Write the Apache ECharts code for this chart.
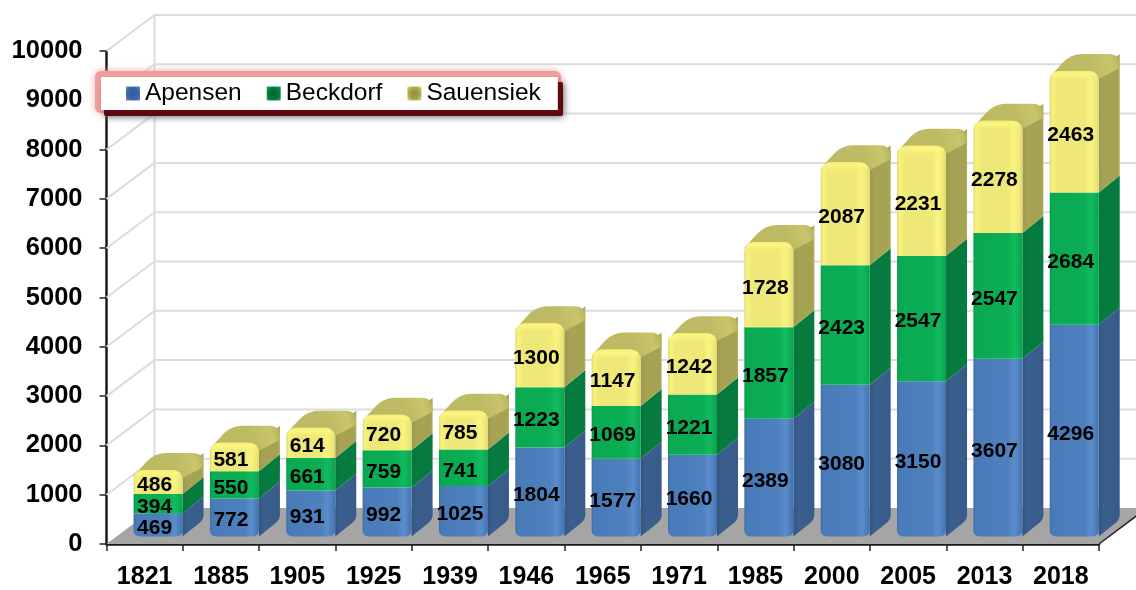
<!DOCTYPE html>
<html>
<head>
<meta charset="utf-8">
<style>html,body{margin:0;padding:0;background:#fff}#c{width:1136px;height:590px;filter:blur(0.45px)}</style>
<script src="https://cdn.jsdelivr.net/npm/echarts@6/dist/echarts.min.js"></script>
</head>
<body>
<div id="c"></div>
<script>
const years = ['1821','1885','1905','1925','1939','1946','1965','1971','1985','2000','2005','2013','2018'];
const apensen = [469,772,931,992,1025,1804,1577,1660,2389,3080,3150,3607,4296];
const beckdorf = [394,550,661,759,741,1223,1069,1221,1857,2423,2547,2547,2684];
const sauensiek = [486,581,614,720,785,1300,1147,1242,1728,2087,2231,2278,2463];
const gridTicks = [0,1000,2000,3000,4000,5000,6000,7000,8000,9000,10000];

const FONT = '"Liberation Sans", Arial, sans-serif';
const WALL_DX = 48, WALL_DY = 36;         // depth of the floor
const BAR_DX = 21, BAR_DY = 17;           // depth of one bar
const BAR_FRONT_DY = 7.5;                 // bar stands this far behind the front edge
const BAR_SHIFT = 13.4, BAR_W = 49;       // relative to the category band

function hGrad(stops){
  return new echarts.graphic.LinearGradient(0,0,1,0,stops.map(s=>({offset:s[0],color:s[1]})));
}
const faces = {
  blue: {
    front: hGrad([[0,'#3f6ea8'],[0.05,'#4a7bb9'],[0.7,'#4e80be'],[0.84,'#5b8dcc'],[0.95,'#4a7cba'],[1,'#4272ac']]),
    side: hGrad([[0,'#34557f'],[0.25,'#3a5f8e'],[1,'#385b89']]),
    top: '#3a5f8e'
  },
  green: {
    front: hGrad([[0,'#089a4c'],[0.05,'#0aaa52'],[0.7,'#0aae54'],[0.84,'#12bb5f'],[0.95,'#0bac54'],[1,'#0a9f4d']]),
    side: hGrad([[0,'#06733b'],[0.25,'#067b40'],[1,'#067a3f']]),
    top: '#067a3f'
  },
  yellow: {
    front: hGrad([[0,'#dcd872'],[0.05,'#f8f27c'],[0.16,'#eee878'],[0.7,'#eee878'],[0.83,'#faf47f'],[0.94,'#eee878'],[1,'#dfda72']]),
    side: hGrad([[0,'#9c9950'],[0.25,'#a6a355'],[0.9,'#a5a254'],[1,'#b0ad5c']]),
    top: new echarts.graphic.LinearGradient(0,1,1,0,[{offset:0,color:'#bdb962'},{offset:0.6,color:'#bfbb64'},{offset:0.85,color:'#c9c56c'},{offset:1,color:'#b3af5c'}])
  }
};

// polygon with rounded corners; radii per corner
function roundPoly(pts, radii){
  const out = [], n = pts.length;
  for(let i=0;i<n;i++){
    const p = pts[i], a = pts[(i+n-1)%n], b = pts[(i+1)%n], r = radii[i];
    if(!r){ out.push(p); continue; }
    const la = Math.hypot(a[0]-p[0],a[1]-p[1]), lb = Math.hypot(b[0]-p[0],b[1]-p[1]);
    const s = [p[0]+(a[0]-p[0])*r/la, p[1]+(a[1]-p[1])*r/la];
    const e = [p[0]+(b[0]-p[0])*r/lb, p[1]+(b[1]-p[1])*r/lb];
    for(let t=0;t<=6;t++){
      const u=t/6, v=1-u;
      out.push([v*v*s[0]+2*v*u*p[0]+u*u*e[0], v*v*s[1]+2*v*u*p[1]+u*u*e[1]]);
    }
  }
  return out;
}

function makeBarRender(face, isBottom, isTop){
  return function(params, api){
    const idx = api.value(0), base = api.value(1), top = api.value(2);
    const c0 = api.coord([idx, base]), c1 = api.coord([idx, top]);
    const x0 = c0[0] + BAR_SHIFT - BAR_W/2, x1 = x0 + BAR_W;
    const yb = c0[1] - BAR_FRONT_DY, yt = c1[1] - BAR_FRONT_DY;
    const kids = [];
    const sidePts = roundPoly(
      [[x1,yt],[x1+BAR_DX,yt-BAR_DY],[x1+BAR_DX,yb-BAR_DY],[x1,yb]],
      [0, 0, isBottom?5:0, 0]);
    kids.push({type:'polygon',shape:{points:sidePts},style:{fill:face.side,stroke:null}});
    if(isTop){
      const topPts = roundPoly(
        [[x0,yt+6],[x0+BAR_DX,yt-BAR_DY],[x1+BAR_DX,yt-BAR_DY],[x1+BAR_DX,yt-BAR_DY+14],[x1,yt+8]],
        [0,12,11,0,0]);
      kids.push({type:'polygon',shape:{points:topPts},style:{fill:face.top}});
    }
    const h = yb-yt;
    const r = isTop?[9,9,0,0]:(isBottom?[0,0,6,6]:0);
    kids.push({type:'rect',shape:{x:x0,y:yt,width:BAR_W,height:h,r:r},style:{fill:face.front}});
    if(isTop){
      kids.push({type:'rect',shape:{x:x0+1,y:yt,width:BAR_W-2,height:10,r:[9,9,0,0]},
        style:{fill:new echarts.graphic.LinearGradient(0,0,0,1,[
          {offset:0,color:'rgba(246,241,120,0.9)'},{offset:0.35,color:'rgba(252,246,128,1)'},{offset:1,color:'rgba(240,234,120,0)'}])}});
    }
    kids.push({type:'text',z2:100,style:{
      x:(x0+x1)/2-3.5, y:(yb+yt)/2+3.2, text:String(api.value(3)),
      textAlign:'center', textVerticalAlign:'middle',
      font:'bold 21px '+FONT, fill:'#000'}});
    return {type:'group',children:kids};
  };
}

function stacked(values, below){
  return values.map((v,i)=>{
    const base = below.reduce((s,a)=>s+a[i],0);
    return [i, base, base+v, v];
  });
}

const option = {
  animation:false,
  backgroundColor:'#fff',
  textStyle:{fontFamily:FONT},
  grid:{left:106.5,right:37,top:51,bottom:42.3,containLabel:false},
  xAxis:{type:'category',data:years,boundaryGap:true,
    axisLine:{show:true,lineStyle:{color:'#1a1a1a',width:2.5},onZero:false},
    axisTick:{show:true,length:7,alignWithLabel:false,lineStyle:{color:'#222',width:1.5}},
    axisLabel:{interval:0,margin:21,fontFamily:FONT,fontWeight:'bold',fontSize:25,color:'#000'},
    splitLine:{show:false}},
  yAxis:{type:'value',min:0,max:10000,interval:1000,
    axisLine:{show:true,lineStyle:{color:'#1a1a1a',width:2.5}},
    axisTick:{show:true,length:7,lineStyle:{color:'#222',width:1.5}},
    axisLabel:{margin:24,fontFamily:FONT,fontWeight:'bold',fontSize:25.5,color:'#000',
      padding:[6,0,0,0],formatter:v=>String(v)},
    splitLine:{show:false}},
  legend:{
    data:[
      {name:'Apensen',itemStyle:{color:new echarts.graphic.RadialGradient(0.5,0.5,0.7,[{offset:0,color:'#2f5fa8'},{offset:0.6,color:'#3b66a5'},{offset:1,color:'#6f93c4'}])}},
      {name:'Beckdorf',itemStyle:{color:new echarts.graphic.RadialGradient(0.5,0.5,0.7,[{offset:0,color:'#035f30'},{offset:0.6,color:'#067a3f'},{offset:1,color:'#20b868'}])}},
      {name:'Sauensiek',itemStyle:{color:new echarts.graphic.RadialGradient(0.5,0.5,0.7,[{offset:0,color:'#8f8c3a'},{offset:0.6,color:'#aba84e'},{offset:1,color:'#e9e47a'}])}}
    ],
    left:101,top:77,orient:'horizontal',
    padding:[4,17,4,25],itemGap:25,itemWidth:14,itemHeight:14,
    icon:'rect',backgroundColor:'#fff',z:6,
    selectedMode:false,
    textStyle:{fontFamily:FONT,fontSize:24.5,color:'#000'}
  },
  graphic:[
    {type:'rect',z:5,shape:{x:95,y:71,width:466,height:42,r:6},
      style:{fill:'#ee9c9c',shadowBlur:7,shadowColor:'#f0a6a6'}},
    {type:'rect',z:5,shape:{x:104,y:82,width:459,height:34,r:2},
      style:{fill:'#5c0a10',shadowBlur:7,shadowColor:'rgba(70,70,70,0.75)',shadowOffsetY:1,shadowOffsetX:1}}
  ],
  series:[
    {type:'custom',name:'walls',silent:true,coordinateSystem:'cartesian2d',z:1,clip:false,
      data:gridTicks.map(v=>[0,v]),encode:{x:0,y:1},
      renderItem:function(params,api){
        const v = api.value(1), p = api.coord([0,v]);
        const cs = params.coordSys, left = cs.x, right = cs.x+cs.width, W = api.getWidth();
        const stroke = {stroke:'#dcdcdc',lineWidth:2};
        const kids = [];
        if(v===0){
          kids.push({type:'polygon',z2:-1,shape:{points:[[left,p[1]],[right,p[1]],[right+WALL_DX,p[1]-WALL_DY],[left+WALL_DX,p[1]-WALL_DY]]},
            style:{fill:'#a5a5a5'}});
          kids.push({type:'line',z2:0,shape:{x1:right,y1:p[1],x2:right+WALL_DX,y2:p[1]-WALL_DY},style:{stroke:'#222',lineWidth:1.5}});
        } else {
          kids.push({type:'line',shape:{x1:left,y1:p[1],x2:left+WALL_DX,y2:p[1]-WALL_DY},style:stroke});
          kids.push({type:'line',shape:{x1:left+WALL_DX,y1:p[1]-WALL_DY,x2:W,y2:p[1]-WALL_DY},style:stroke});
        }
        if(v===10000){
          const q = api.coord([0,0]);
          kids.push({type:'line',z2:-2,shape:{x1:left+WALL_DX,y1:p[1]-WALL_DY,x2:left+WALL_DX,y2:q[1]-WALL_DY},style:stroke});
        }
        return {type:'group',children:kids};
      }},
    {type:'custom',name:'Apensen',coordinateSystem:'cartesian2d',z:2,clip:false,
      itemStyle:{color:'#3b66a5'},
      data:stacked(apensen,[]),encode:{x:0,y:[1,2]},
      renderItem:makeBarRender(faces.blue,true,false)},
    {type:'custom',name:'Beckdorf',coordinateSystem:'cartesian2d',z:2,clip:false,
      itemStyle:{color:'#067a3f'},
      data:stacked(beckdorf,[apensen]),encode:{x:0,y:[1,2]},
      renderItem:makeBarRender(faces.green,false,false)},
    {type:'custom',name:'Sauensiek',coordinateSystem:'cartesian2d',z:2,clip:false,
      itemStyle:{color:'#aba84e'},
      data:stacked(sauensiek,[apensen,beckdorf]),encode:{x:0,y:[1,2]},
      renderItem:makeBarRender(faces.yellow,false,true)}
  ]
};
const chart = echarts.init(document.getElementById('c'),null,{renderer:'canvas'});
chart.setOption(option);
</script>
</body>
</html>
